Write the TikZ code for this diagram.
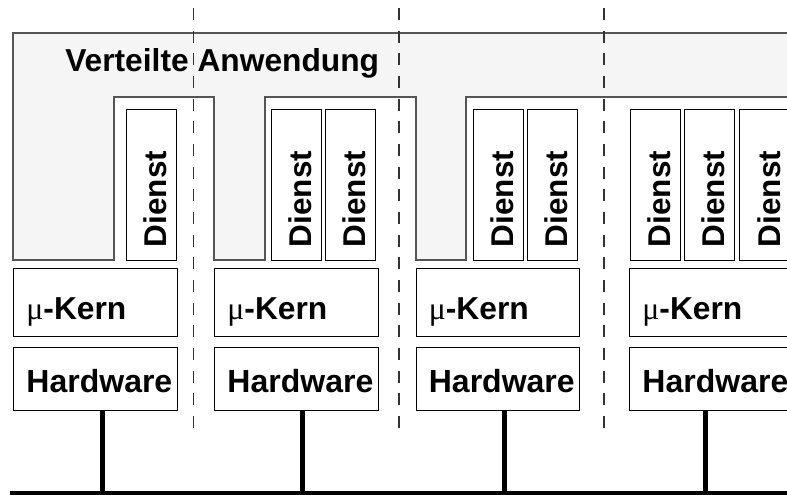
\documentclass[tikz,border=0pt]{standalone}
\usepackage{fontspec}
\setmainfont{Liberation Sans}
\newfontfamily\mufont{Liberation Serif}
\usetikzlibrary{positioning}
\usepackage{xcolor}
\definecolor{appgray}{HTML}{F5F5F5}
\definecolor{edgegray}{HTML}{555555}
\definecolor{sepgray}{HTML}{333333}

\begin{document}
\begin{tikzpicture}[x=0.75pt, y=-0.75pt,
    app/.style={draw=edgegray, line width=1pt, fill=appgray},
    dienst/.style={rectangle, draw, line width=0.75pt, fill=white, rotate=90,
                   minimum width=113.25pt, minimum height=37.8pt,
                   inner xsep=9.75pt, text width=93.75pt, align=left,
                   text height=23pt, text depth=0pt,
                   font=\fontsize{23.6}{28}\selectfont\bfseries},
    kern/.style={rectangle, draw, line width=0.75pt, anchor=north west,
                 minimum width=122.5pt, minimum height=50.5pt,
                 inner xsep=9.5pt, text width=103.5pt, align=left,
                 text height=26pt, text depth=0pt,
                 font=\fontsize{23.8}{28}\selectfont\bfseries},
    hw/.style={rectangle, draw, line width=0.75pt,
               minimum width=122.5pt, minimum height=47.5pt,
               inner xsep=9.5pt, text width=103.5pt, align=left,
               text height=20pt, text depth=0pt,
               font=\fontsize{24}{28}\selectfont\bfseries},
    bus/.style={line width=3.75pt},
    sep/.style={draw=sepgray, line width=0.8pt, dash pattern=on 9pt off 8pt}
  ]
    \clip (0,0) rectangle (787,494);
    \draw[app] (13,260) -- (13,33) -- (800,33) -- (800,97) -- (466,97)
      -- (466,260) -- (416,260) -- (416,97) -- (265,97) -- (265,260)
      -- (214,260) -- (214,97) -- (114,97) -- (114,260) -- cycle;
    \node[anchor=base west, inner sep=0pt,
          font=\fontsize{23.8}{28}\selectfont\bfseries] (app) at (65,71.7)
          {Verteilte Anwendung};

    \node[dienst] (d1) at (151.5,184.5) {Dienst};
    \node[dienst] (d2) at (296.5,184.5) {Dienst};
    \node[dienst] (d3) at (350.5,184.5) {Dienst};
    \node[dienst] (d4) at (498.3,184.5) {Dienst};
    \node[dienst] (d5) at (552.5,184.5) {Dienst};
    \node[dienst] (d6) at (655.2,184.5) {Dienst};
    \node[dienst] (d7) at (709.2,184.5) {Dienst};
    \node[dienst] (d8) at (765,184.5) {Dienst};

    \node[kern] (k1) at (13.3,268.3) {{\mdseries\mufont μ}-Kern};
    \node[kern] (k2) at (214.3,268.3) {{\mdseries\mufont μ}-Kern};
    \node[kern] (k3) at (415.7,268.3) {{\mdseries\mufont μ}-Kern};
    \node[kern] (k4) at (629.3,268.3) {{\mdseries\mufont μ}-Kern};

    \node[hw, below=7.7pt of k1.south west, anchor=north west] (h1) {Hardware};
    \node[hw, below=7.7pt of k2.south west, anchor=north west] (h2) {Hardware};
    \node[hw, below=7.7pt of k3.south west, anchor=north west] (h3) {Hardware};
    \node[hw, below=7.7pt of k4.south west, anchor=north west] (h4) {Hardware};

    \coordinate (t1) at (102,492.5);
    \coordinate (t2) at (302.5,492.5);
    \coordinate (t3) at (504,492.5);
    \coordinate (t4) at (705.5,492.5);
    \draw[line width=3pt] (10,492.5) -- (800,492.5);
    \draw[bus] (t1 |- h1.south) -- (t1);
    \draw[bus] (t2 |- h2.south) -- (t2);
    \draw[bus] (t3 |- h3.south) -- (t3);
    \draw[bus] (t4 |- h4.south) -- (t4);

    \foreach \x in {193.3,399,604}
      \draw[sep] (\x,8) -- (\x,428);
  \end{tikzpicture}
\end{document}
